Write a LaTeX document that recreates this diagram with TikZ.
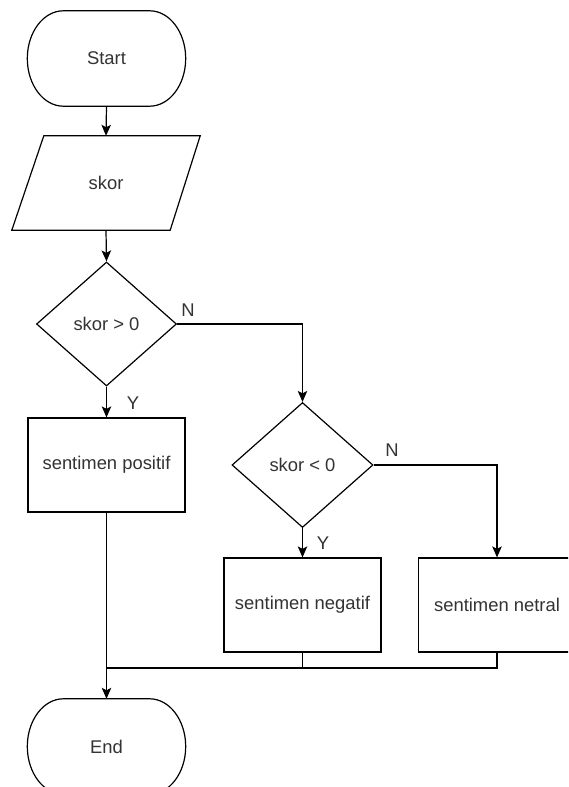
\documentclass[tikz,border=0pt]{standalone}
\usepackage{fontspec}
\setmainfont{Liberation Sans}
\usetikzlibrary{shapes.geometric,arrows.meta,calc}
\definecolor{txt}{HTML}{333333}
\newcommand{\termshape}[1]{%
  \draw[line width=1.2pt]
    ($(#1.north west)+(36,0)$) -- ($(#1.north east)+(-36,0)$)
    .. controls ($(#1.north east)+(-16.1,0)$) and ($(#1.east)+(0,-26.2)$) .. (#1.east)
    .. controls ($(#1.east)+(0,26.2)$) and ($(#1.south east)+(-16.1,0)$) .. ($(#1.south east)+(-36,0)$)
    -- ($(#1.south west)+(36,0)$)
    .. controls ($(#1.south west)+(16.1,0)$) and ($(#1.west)+(0,26.2)$) .. (#1.west)
    .. controls ($(#1.west)+(0,-26.2)$) and ($(#1.north west)+(16.1,0)$) .. cycle;}
\begin{document}
\begin{tikzpicture}[x=1pt,y=-1pt,
  every node/.style={font=\fontsize{18.4}{22}\selectfont, text=txt},
  base/.style={draw=black, line width=1.2pt, minimum width=157pt, minimum height=94pt, inner sep=0pt},
  term/.style={rectangle, minimum width=158pt, minimum height=95pt, inner sep=0pt},
  procbox/.style={base, rectangle},
  decide/.style={diamond, draw=black, line width=1.2pt, inner sep=0pt, aspect=1.13},
  conn/.style={line width=1.2pt, draw=black},
  arr/.style={conn, -{Stealth[length=11pt,width=9.5pt,inset=2.5pt]}},
  lbl/.style={inner sep=0pt}]
\useasboundingbox (0,0) rectangle (568,787);
\fill[white] (0,0) rectangle (568,787);
\clip (0,0) rectangle (568,787);

\node[term] (start) at (106.5,58.5) {Start};
\termshape{start}
\node[minimum width=188pt, minimum height=94pt, inner sep=0pt] (in) at (106,183) {skor};
\draw[line width=1.2pt] (in.south west) -- ([xshift=-30pt]in.south east) -- (in.north east) -- ([xshift=32pt]in.north west) -- cycle;
\node[decide, minimum width=140pt, minimum height=124pt] (d1) at (106.5,324) {skor > 0};
\node[procbox] (pos) at (106.5,465) {sentimen positif};
\node[decide, minimum width=141pt, minimum height=125pt] (d2) at (302.5,465) {skor < 0};
\node[procbox] (neg) at (302.5,605) {sentimen negatif};
\node[procbox] (net) at (497,605) {sentimen netral};
\node[term] (end) at (106.5,746.5) {End};
\termshape{end}

\coordinate (j1) at (106.5,668);
\coordinate (j2) at (302.5,668);

\draw[arr] (start.south) -- (in.north);
\draw[arr] (in.south) -- (d1.north);
\draw[arr] (d1.south) -- (pos.north);
\draw[arr] (d1.east) -| (d2.north);
\draw[arr] (d2.south) -- (neg.north);
\draw[arr] (d2.east) -| (net.north);
\draw[arr] (pos.south) -- (end.north);
\draw[conn] (neg.south) |- (j1);
\draw[conn] (net.south) |- (j2);

\node[lbl] (n1) at (188,310) {N};
\node[lbl] (y1) at (133,403) {Y};
\node[lbl] (n2) at (392,450) {N};
\node[lbl] (y2) at (323,543) {Y};
\end{tikzpicture}
\end{document}
